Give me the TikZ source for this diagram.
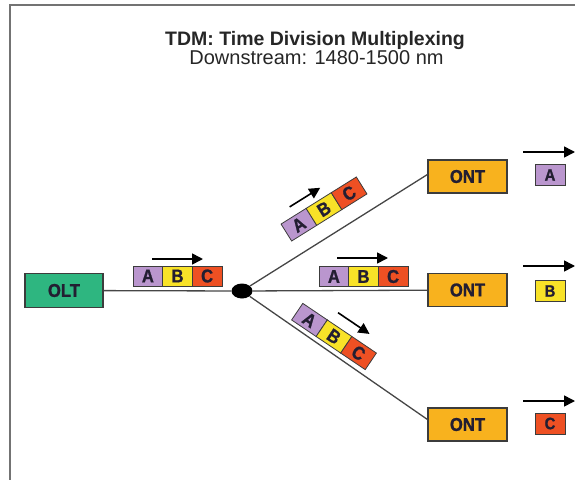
\documentclass[tikz,border=0pt]{standalone}
\usepackage{fontspec}
\setmainfont{Liberation Sans}
\newfontfamily\condfont{Liberation Sans}[FakeStretch=0.9, BoldFeatures={FakeBold=1.2}]
\usetikzlibrary{arrows.meta,shapes.geometric}

\definecolor{oltgreen}{RGB}{46,182,128}
\definecolor{ontorange}{RGB}{248,178,30}
\definecolor{pktA}{RGB}{186,150,206}
\definecolor{pktB}{RGB}{248,226,40}
\definecolor{pktC}{RGB}{238,80,35}
\definecolor{edgegray}{RGB}{60,60,60}
\definecolor{fibergray}{RGB}{70,70,70}
\definecolor{framegray}{RGB}{115,115,115}
\definecolor{lettercol}{RGB}{35,30,50}

\tikzset{
  unitbox/.style={draw=edgegray, line width=1.1pt, inner sep=0pt,
    font=\condfont\bfseries\fontsize{18.5}{18.5}\selectfont, text=lettercol},
  oltbox/.style={unitbox, fill=oltgreen, minimum width=78pt, minimum height=34pt},
  ontbox/.style={unitbox, fill=ontorange, minimum width=79pt, minimum height=33pt},
  cell/.style={draw=edgegray, line width=0.8pt, inner sep=0pt,
    minimum width=29.6pt, minimum height=20pt,
    font=\condfont\bfseries\fontsize{18.5}{18.5}\selectfont, text=lettercol},
  tag/.style={cell, minimum width=30pt, minimum height=21pt,
    font=\condfont\bfseries\fontsize{16.5}{16.5}\selectfont},
  fiber/.style={draw=fibergray, line width=1.3pt},
  flow/.style={-{Triangle[length=11pt,width=11pt]}, line width=1.6pt, black},
  splitter/.style={ellipse, fill=black, inner sep=0pt,
    minimum width=21pt, minimum height=15pt}
}

\begin{document}
\begin{tikzpicture}[x=1pt,y=-1pt]
\useasboundingbox (0,0) rectangle (575,479);

% frame
\draw[framegray, line width=2pt] (10,481) -- (10,5) -- (577,5);

% heading
\node[font=\bfseries\fontsize{19.5}{20}\selectfont, anchor=base, text=black!85]
  (title) at (315,45) {TDM: Time Division Multiplexing};
\node[font=\fontsize{20}{21}\selectfont, anchor=base, text=black!85]
  (subtitle) at (316.5,64.5) {Downstream: 1480-1500 nm};

% terminals
\node[oltbox] (olt) at (64,290.5) {OLT};
\node[ontbox] (ont1) at (467.5,176.5) {ONT};
\node[ontbox] (ont2) at (467.5,290) {ONT};
\node[ontbox] (ont3) at (467.5,424.5) {ONT};
\node[splitter] (sp) at (242,291) {};

% fibres
\draw[fiber] (olt) -- (sp);
\draw[fiber] (sp) -- (ont2);
\draw[fiber] (sp) -- ([yshift=2pt]ont1.west);
\draw[fiber] (sp) -- ([yshift=5pt]ont3.west);

% frames on the feeder
\begin{scope}[shift={(177.5,276)}]
  \node[cell, fill=pktA] (fa) at (-29.6,0) {A};
  \node[cell, fill=pktB] (fb) at (0,0) {B};
  \node[cell, fill=pktC] (fc) at (29.6,0) {C};
  \coordinate (fs) at (-25.5,-17);
  \coordinate (fe) at (25.5,-17);
  \draw[flow] (fs) -- (fe);
\end{scope}

% frames towards the upper ONT
\begin{scope}[shift={(324,209)}, rotate=32, transform shape]
  \node[cell, fill=pktA] (ua) at (-29.6,0) {A};
  \node[cell, fill=pktB] (ub) at (0,0) {B};
  \node[cell, fill=pktC] (uc) at (29.6,0) {C};
  \coordinate (us) at (-28,-20);
  \coordinate (ue) at (8,-20);
  \draw[flow] (us) -- (ue);
\end{scope}

% frames towards the middle ONT
\begin{scope}[shift={(363.5,276.5)}]
  \node[cell, fill=pktA] (ma) at (-29.6,0) {A};
  \node[cell, fill=pktB] (mb) at (0,0) {B};
  \node[cell, fill=pktC] (mc) at (29.6,0) {C};
  \coordinate (ms) at (-26.5,-18.5);
  \coordinate (me) at (24.5,-18.5);
  \draw[flow] (ms) -- (me);
\end{scope}

% frames towards the lower ONT
\begin{scope}[shift={(334,336.5)}, rotate=-34, transform shape]
  \node[cell, fill=pktA] (la) at (-29.6,0) {A};
  \node[cell, fill=pktB] (lb) at (0,0) {B};
  \node[cell, fill=pktC] (lc) at (29.6,0) {C};
  \coordinate (ls) at (-10,-22);
  \coordinate (le) at (28,-22);
  \draw[flow] (ls) -- (le);
\end{scope}

% frames kept by each ONT
\node[tag, fill=pktA] (ta) at (550,175) {A};
\node[tag, fill=pktB] (tb) at (550,291) {B};
\node[tag, fill=pktC] (tc) at (550,423.5) {C};
\coordinate (as) at (523,152);  \coordinate (ae) at (575,152);
\coordinate (bs) at (523,266);  \coordinate (be) at (575,266);
\coordinate (cs) at (523,401);  \coordinate (ce) at (575,401);
\draw[flow] (as) -- (ae);
\draw[flow] (bs) -- (be);
\draw[flow] (cs) -- (ce);

\end{tikzpicture}
\end{document}
